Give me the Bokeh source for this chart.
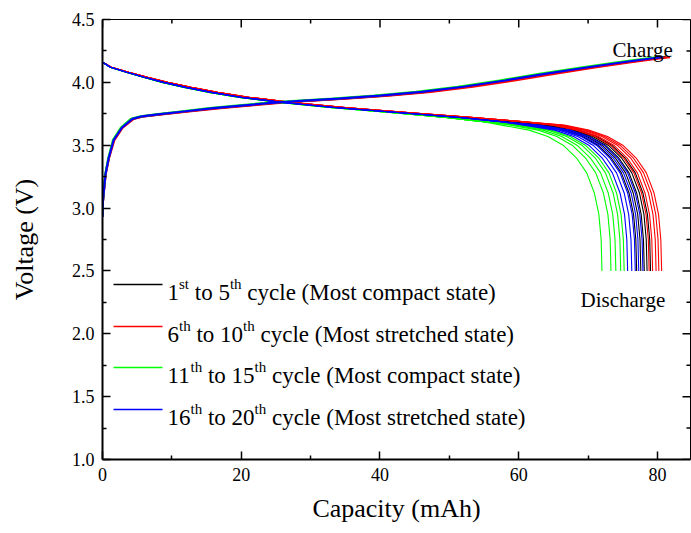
from bokeh.plotting import figure
from bokeh.models import Range1d, FixedTicker, NumeralTickFormatter
from bokeh.core.properties import value
from bokeh.embed import file_html
from bokeh.resources import INLINE

# ---------------- data ----------------
x_ticks = [0, 20, 40, 60, 80]
x_minor = [10, 30, 50, 70]
y_ticks = [1.0, 1.5, 2.0, 2.5, 3.0, 3.5, 4.0, 4.5]
y_minor = [1.25, 1.75, 2.25, 2.75, 3.25, 3.75, 4.25]

series_colors = ["#000000", "#FF0000", "#00FF00", "#0000FF"]

# discharge: voltage grid (plateau part shared within a group, tail per cycle)
dis_v_plateau = [4.16, 4.12, 4.08, 4.04, 4.00, 3.96, 3.92, 3.88, 3.84, 3.80, 3.76, 3.72, 3.69]
dis_v_tail = [3.66, 3.62, 3.57, 3.50, 3.40, 3.28, 3.12, 2.95, 2.75, 2.50]

black_dis_plateau = [0, 1.2, 3.6, 6.2, 9.0, 12.3, 16.0, 20.5, 26.5, 34.0, 43.0, 52.0, 58.0]
red_dis_plateau = [0, 1.3, 3.8, 6.5, 9.4, 12.8, 16.6, 21.3, 27.5, 35.0, 44.0, 53.5, 60.0]
green_dis_plateau = [0, 1.1, 3.4, 5.9, 8.6, 11.8, 15.4, 19.8, 25.6, 32.8, 41.5, 49.5, 54.5]
blue_dis_plateau = [0, 1.15, 3.5, 6.0, 8.8, 12.0, 15.7, 20.1, 26.0, 33.4, 42.5, 51.5, 57.0]

black_dis_tails = [
    [64.0, 68.5, 71.2, 73.4, 75.3, 76.8, 77.9, 78.55, 78.88, 79.0],
    [63.5, 68.0, 70.7, 72.9, 74.8, 76.3, 77.4, 78.05, 78.38, 78.5],
    [63.1, 67.6, 70.3, 72.5, 74.4, 75.9, 77.0, 77.65, 77.98, 78.1],
    [62.6, 67.1, 69.8, 72.0, 73.9, 75.4, 76.5, 77.15, 77.48, 77.6],
    [62.0, 66.5, 69.2, 71.4, 73.3, 74.8, 75.9, 76.55, 76.88, 77.0],
]
red_dis_tails = [
    [66.6, 70.1, 72.8, 75.0, 76.9, 78.4, 79.5, 80.15, 80.48, 80.6],
    [66.2, 69.7, 72.4, 74.6, 76.5, 78.0, 79.1, 79.75, 80.08, 80.2],
    [65.8, 69.3, 72.0, 74.2, 76.1, 77.6, 78.7, 79.35, 79.68, 79.8],
    [65.3, 68.8, 71.5, 73.7, 75.6, 77.1, 78.2, 78.85, 79.18, 79.3],
    [64.8, 68.3, 71.0, 73.2, 75.1, 76.6, 77.7, 78.35, 78.68, 78.8],
]
green_dis_tails = [
    [60.7, 64.7, 67.4, 69.6, 71.5, 73.0, 74.1, 74.75, 75.08, 75.2],
    [60.2, 64.2, 66.9, 69.1, 71.0, 72.5, 73.6, 74.25, 74.58, 74.7],
    [59.5, 63.5, 66.2, 68.4, 70.3, 71.8, 72.9, 73.55, 73.88, 74.0],
    [58.8, 62.8, 65.5, 67.7, 69.6, 71.1, 72.2, 72.85, 73.18, 73.3],
    [57.5, 61.5, 64.2, 66.4, 68.3, 69.8, 70.9, 71.55, 71.88, 72.0],
]
blue_dis_tails = [
    [62.9, 67.4, 70.1, 72.3, 74.2, 75.7, 76.8, 77.45, 77.78, 77.9],
    [62.3, 66.8, 69.5, 71.7, 73.6, 75.1, 76.2, 76.85, 77.18, 77.3],
    [61.8, 66.3, 69.0, 71.2, 73.1, 74.6, 75.7, 76.35, 76.68, 76.8],
    [61.3, 65.8, 68.5, 70.7, 72.6, 74.1, 75.2, 75.85, 76.18, 76.3],
    [60.7, 65.2, 67.9, 70.1, 72.0, 73.5, 74.6, 75.25, 75.58, 75.7],
]

# charge curves
chg_v = [2.93, 3.05, 3.14, 3.27, 3.40, 3.54, 3.64, 3.71, 3.73, 3.745, 3.77, 3.795, 3.815,
         3.835, 3.85, 3.87, 3.895, 3.925, 3.965, 4.015, 4.07, 4.12, 4.16, 4.19, 4.20]
black_chg = [0, 0.05, 0.2, 0.43, 0.9, 1.6, 2.8, 4.35, 5.8, 8.2, 12.3, 16.4, 20.4, 24.4, 28.5,
             34.5, 40.6, 46.6, 52.6, 58.6, 64.6, 70.6, 75.6, 79.6, 81.2]
red_chg = [0, 0.06, 0.22, 0.46, 0.95, 1.7, 2.9, 4.5, 6.0, 8.5, 12.8, 17.0, 21.0, 25.0, 29.0,
           35.0, 41.2, 47.3, 53.4, 59.4, 65.3, 71.2, 76.2, 80.2, 81.8]
green_chg = [0, 0.04, 0.18, 0.4, 0.85, 1.5, 2.65, 4.1, 5.5, 7.7, 11.5, 15.4, 19.3, 23.2, 27.3,
             33.2, 39.2, 45.2, 51.2, 57.2, 63.2, 69.2, 74.2, 78.3, 80.0]
blue_chg = [0, 0.05, 0.2, 0.43, 0.9, 1.6, 2.8, 4.3, 5.7, 8.0, 12.0, 16.0, 20.0, 24.0, 28.0,
            34.0, 40.0, 46.0, 52.0, 58.0, 64.0, 70.0, 75.0, 79.0, 80.8]

legend_rows = [
    [("1", 0), ("st", 1), (" to 5", 0), ("th", 1), (" cycle (Most compact state)", 0)],
    [("6", 0), ("th", 1), (" to 10", 0), ("th", 1), (" cycle (Most stretched state)", 0)],
    [("11", 0), ("th", 1), (" to 15", 0), ("th", 1), (" cycle (Most compact state)", 0)],
    [("16", 0), ("th", 1), (" to 20", 0), ("th", 1), (" cycle (Most stretched state)", 0)],
]

FONT = "Liberation Serif"
X_MAX = 84.76
Y_MIN, Y_MAX = 1.0, 4.5

# ---------------- figure ----------------
p = figure(width=691, height=525,
           x_range=Range1d(0, X_MAX), y_range=Range1d(Y_MIN, Y_MAX),
           output_backend="svg", toolbar_location=None,
           min_border_left=102, min_border_right=1, min_border_top=19, min_border_bottom=66)
p.extra_x_ranges = {"px": Range1d(0, 588)}
p.extra_y_ranges = {"py": Range1d(440, 0)}
p.xgrid.visible = False
p.ygrid.visible = False
p.outline_line_color = "black"
p.outline_line_width = 1
p.background_fill_color = "white"
p.border_fill_color = "white"

bottom_ax = p.below[0]
left_ax = p.left[0]
bottom_ax.ticker = FixedTicker(ticks=x_ticks, minor_ticks=x_minor)
left_ax.ticker = FixedTicker(ticks=y_ticks, minor_ticks=y_minor)
left_ax.formatter = NumeralTickFormatter(format="0.0")

for ax in [bottom_ax, left_ax]:
    ax.major_tick_in = 8
    ax.major_tick_out = 0
    ax.minor_tick_in = 4
    ax.minor_tick_out = 0
    ax.axis_line_color = "black"
    ax.axis_line_width = 2
    ax.major_tick_line_color = "black"
    ax.minor_tick_line_color = "black"
    ax.major_tick_line_width = 1.5
    ax.minor_tick_line_width = 1.5
    ax.major_label_text_font = FONT
    ax.major_label_text_color = "black"
    ax.major_label_text_font_size = "18px"
    ax.major_label_standoff = 8
    ax.axis_label_text_font = FONT
    ax.axis_label_text_font_style = "normal"
    ax.axis_label_text_font_size = "26px"
    ax.axis_label_text_color = "black"

bottom_ax.axis_label = "Capacity (mAh)"
left_ax.axis_label = "Voltage (V)"
bottom_ax.axis_label_standoff = 10
left_ax.axis_label_standoff = 30

# top and right ticks (inward), x/y from tick lists, length in frame pixels
p.segment(x0=x_ticks, x1=x_ticks, y0=[0] * len(x_ticks), y1=[8] * len(x_ticks),
          y_range_name="py", line_color="black", line_width=1.5)
p.segment(x0=x_minor, x1=x_minor, y0=[0] * len(x_minor), y1=[4] * len(x_minor),
          y_range_name="py", line_color="black", line_width=1.5)
p.segment(x0=[588] * len(y_ticks), x1=[580] * len(y_ticks), y0=y_ticks, y1=y_ticks,
          x_range_name="px", line_color="black", line_width=1.5)
p.segment(x0=[588] * len(y_minor), x1=[584] * len(y_minor), y0=y_minor, y1=y_minor,
          x_range_name="px", line_color="black", line_width=1.5)

# ---------------- curves ----------------
plateaus = [black_dis_plateau, red_dis_plateau, green_dis_plateau, blue_dis_plateau]
tails = [black_dis_tails, red_dis_tails, green_dis_tails, blue_dis_tails]
charges = [black_chg, red_chg, green_chg, blue_chg]

for color, plat, tl, chg in zip(series_colors, plateaus, tails, charges):
    p.line(chg, chg_v, line_color=color, line_width=2.2)
    for t in tl:
        p.line(plat + t, dis_v_plateau + dis_v_tail, line_color=color, line_width=1.1)

# ---------------- annotations (frame pixel coords) ----------------
p.text(x=[510], y=[30], text=["Charge"], x_range_name="px", y_range_name="py",
       text_font=value(FONT), text_font_size="21px", text_color="black",
       text_baseline="alphabetic", text_align="left")
p.text(x=[478], y=[280], text=["Discharge"], x_range_name="px", y_range_name="py",
       text_font=value(FONT), text_font_size="21px", text_color="black",
       text_baseline="alphabetic", text_align="left")

# ---------------- legend ----------------
TNR = {' ': 250, '0': 500, '1': 500, '2': 500, '5': 500, '6': 500, 't': 278, 'o': 500,
       's': 389, 'h': 500, 'c': 444, 'y': 500, 'l': 278, 'e': 444, '(': 333, ')': 333,
       'M': 889, 'm': 778, 'p': 500, 'a': 444, 'r': 333, 'd': 500}


def tw(s, size):
    return sum(TNR.get(ch, 500) for ch in s) * size / 1000.0


MAIN = 23
SUP = 15
row_y = [265, 307, 348, 390]
line_x0, line_x1 = 11, 60
text_x0 = 65

mx, my, mt, sx, sy, st = [], [], [], [], [], []
for ry, row in zip(row_y, legend_rows):
    cx = text_x0
    for txt, sup in row:
        size = SUP if sup else MAIN
        lead = len(txt) - len(txt.lstrip(" "))
        cx += tw(" " * lead, size)
        body = txt.lstrip(" ")
        if sup:
            sx.append(cx); sy.append(ry - 1); st.append(body)
        else:
            mx.append(cx); my.append(ry + 8); mt.append(body)
        cx += tw(body, size)

for ry, color in zip(row_y, series_colors):
    p.segment(x0=[line_x0], y0=[ry], x1=[line_x1], y1=[ry], x_range_name="px", y_range_name="py",
              line_color=color, line_width=1.3)

p.text(x=mx, y=my, text=mt, x_range_name="px", y_range_name="py",
       text_font=value(FONT), text_font_size=f"{MAIN}px", text_color="black",
       text_baseline="alphabetic", text_align="left")
p.text(x=sx, y=sy, text=st, x_range_name="px", y_range_name="py",
       text_font=value(FONT), text_font_size=f"{SUP}px", text_color="black",
       text_baseline="alphabetic", text_align="left")

open("out.html", "w").write(file_html(p, INLINE))
